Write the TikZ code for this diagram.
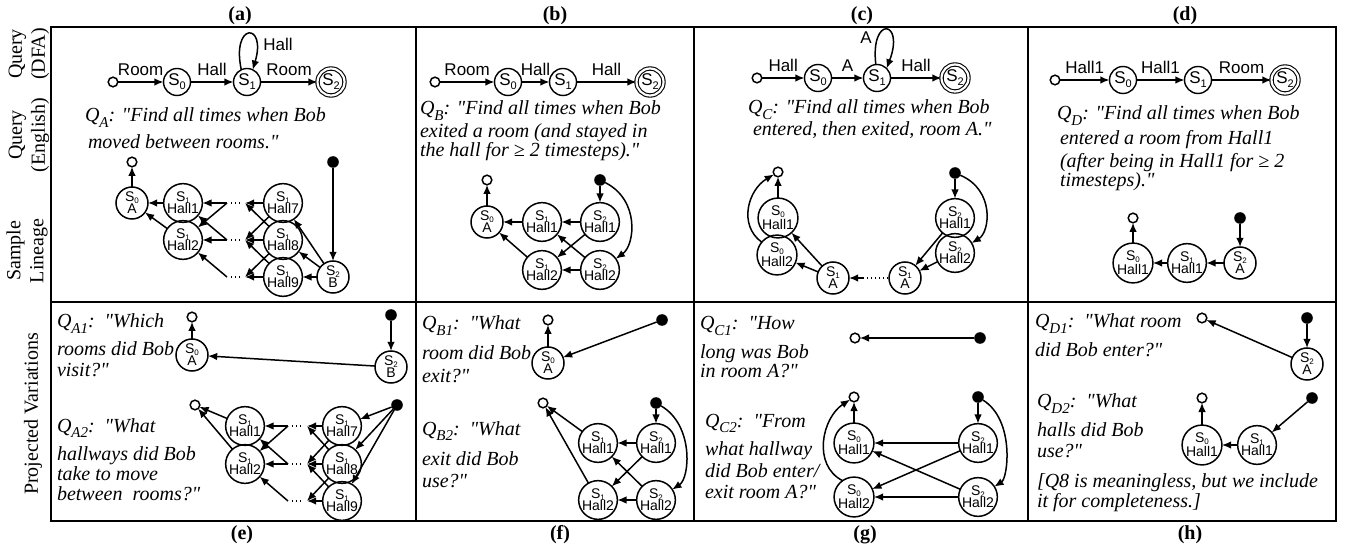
\documentclass[tikz,border=0pt]{standalone}
\usepackage{fontspec}
\setmainfont{Liberation Serif}[Ligatures=TeXOff]
\newfontfamily\hv{Liberation Sans}
\usetikzlibrary{arrows.meta}
\newcommand\qs[1]{\raisebox{-0.55ex}{\fontsize{7.5}{7.5}\selectfont #1}}
\newcommand\ds[1]{\raisebox{-0.45ex}{\fontsize{5.5}{5.5}\selectfont #1}}
\newcommand\ls[1]{\raisebox{-0.25ex}{\fontsize{4}{4}\selectfont #1}}
\begin{document}
\begin{tikzpicture}[x=0.5pt,y=-0.5pt,
 every node/.style={inner sep=0pt,outer sep=0pt},
 arr/.style={-{Latex[length=4.6pt,width=3.8pt]},line width=0.75pt},
 st/.style={circle,draw,line width=0.7pt,minimum size=13.5pt,font=\hv\fontsize{8.5}{9}\selectfont},
 acc/.style={circle,draw,double,double distance=1.1pt,line width=0.55pt,minimum size=13.5pt,font=\hv\fontsize{8.5}{9}\selectfont},
 ln/.style={circle,draw,line width=0.75pt,minimum size=16pt,align=center,font=\hv\fontsize{7}{6}\selectfont},
 oc/.style={circle,draw,line width=0.75pt,minimum size=4.8pt},
 fc/.style={circle,fill,minimum size=5.8pt},
 lbl/.style={font=\hv\fontsize{8.5}{9}\selectfont,above=3pt},
 qt/.style={anchor=base west,font=\fontsize{10}{11}\selectfont\itshape},
 frm/.style={line width=1pt},
 dotl/.style={line width=0.7pt,dash pattern=on 0.7pt off 1.3pt},
 pl/.style={font=\bfseries\fontsize{10}{12}\selectfont},
 rl/.style={rotate=90,align=center,font=\fontsize{10}{11.5}\selectfont}
]
\useasboundingbox (0,0) rectangle (1348,550);
% frame
\draw[frm] (51,27) rectangle (1336,521);
\draw[frm] (51,302) -- (1336,302);
\draw[frm] (416,27) -- (416,521);
\draw[frm] (694,27) -- (694,521);
\draw[frm] (1028,27) -- (1028,521);
% panel labels
\node[pl] (la) at (240,16) {(a)};
\node[pl] (lb) at (555,16) {(b)};
\node[pl] (lc) at (862,16) {(c)};
\node[pl] (ld) at (1185,16) {(d)};
\node[pl] (le) at (242,535) {(e)};
\node[pl] (lf) at (560,535) {(f)};
\node[pl] (lg) at (865,535) {(g)};
\node[pl] (lh) at (1190,535) {(h)};
% row labels
\node[rl] (r1) at (29,54) {Query\\(DFA)};
\node[rl] (r2) at (29,135) {Query\\(English)};
\node[rl] (r3) at (27,251) {Sample\\Lineage};
\node[rl] (r4) at (33,414) {Projected Variations};

% ===== (a) =====
\node[oc] (aI) at (113,82) {};
\node[st] (aQ0) at (177,82) {S\ds0};
\node[st] (aQ1) at (247,82) {S\ds1};
\node[acc] (aQ2) at (331,82) {S\ds2};
\draw[arr] (aI) -- node[lbl] (aE1) {Room} (aQ0);
\draw[arr] (aQ0) -- node[lbl] (aE2) {Hall} (aQ1);
\draw[arr] (aQ1) -- node[lbl] (aE3) {Room} (aQ2);
\draw[arr] (aQ1.115) .. controls (231,22) and (267,22) .. (aQ1.65);
\node[font=\hv\fontsize{8.5}{9}\selectfont] (aE4) at (278,44) {Hall};
\node[qt] (ta1) at (85,122) {Q\qs{A}: "Find all times when Bob};
\node[qt] (ta2) at (88,149) {moved between rooms."};
\node[oc] (aO) at (132,162) {};
\node[fc] (aF) at (333,162) {};
\node[ln] (aS0) at (132,203) {S\ls0\\A};
\node[ln] (aH1) at (183,203) {S\ls1\\Hall1};
\node[ln] (aH2) at (183,240) {S\ls1\\Hall2};
\node[ln] (aH7) at (283,203) {S\ls1\\Hall7};
\node[ln] (aH8) at (283,240) {S\ls1\\Hall8};
\node[ln] (aH9) at (283,277) {S\ls1\\Hall9};
\node[ln] (aS2) at (333,277) {S\ls2\\B};
\coordinate (aL1) at (227,203); \coordinate (aR1) at (245,203);
\coordinate (aL2) at (227,240); \coordinate (aR2) at (245,240);
\coordinate (aL3) at (227,277); \coordinate (aR3) at (245,277);
\draw[dotl,shorten <=2pt,shorten >=2pt] (aL1) -- (aR1);
\draw[dotl,shorten <=2pt,shorten >=2pt] (aL2) -- (aR2);
\draw[dotl,shorten <=2pt,shorten >=2pt] (aL3) -- (aR3);
\draw[arr] (aS0) -- (aO);
\draw[arr] (aF) -- (aS2);
\draw[arr] (aH1) -- (aS0);
\draw[arr] (aH2) -- (aS0);
\draw[arr] (aL1) -- (aH1);
\draw[arr] (aL1) -- (aH2);
\draw[arr] (aL2) -- (aH2);
\draw[arr] (aL2) -- (aH1);
\draw[arr] (aL3) -- (aH2);
\draw[arr] (aH7) -- (aR1);
\draw[arr] (aH7) -- (aR2);
\draw[arr] (aH8) -- (aR1);
\draw[arr] (aH8) -- (aR2);
\draw[arr] (aH8) -- (aR3);
\draw[arr] (aH9) -- (aR2);
\draw[arr] (aH9) -- (aR3);
\draw[arr] (aS2) -- (aH7);
\draw[arr] (aS2) -- (aH8);
\draw[arr] (aS2) -- (aH9);

% ===== (b) =====
\node[oc] (bI) at (435,82) {};
\node[st] (bQ0) at (508,82) {S\ds0};
\node[st] (bQ1) at (563,82) {S\ds1};
\node[acc] (bQ2) at (650,82) {S\ds2};
\draw[arr] (bI) -- node[lbl] (bE1) {Room} (bQ0);
\draw[arr] (bQ0) -- node[lbl] (bE2) {Hall} (bQ1);
\draw[arr] (bQ1) -- node[lbl] (bE3) {Hall} (bQ2);
\node[qt] (tb1) at (420,115) {Q\qs{B}: "Find all times when Bob};
\node[qt] (tb2) at (420,138) {exited a room (and stayed in};
\node[qt] (tb3) at (420,157) {the hall for ≥ 2 timesteps)."};
\node[oc] (bO) at (487,180) {};
\node[fc] (bF) at (600,180) {};
\node[ln] (bS0) at (487,222) {S\ls0\\A};
\node[ln] (bH11) at (542,222) {S\ls1\\Hall1};
\node[ln] (bH21) at (600,222) {S\ls2\\Hall1};
\node[ln] (bH12) at (542,270) {S\ls1\\Hall2};
\node[ln] (bH22) at (600,270) {S\ls2\\Hall2};
\draw[arr] (bS0) -- (bO);
\draw[arr] (bH11) -- (bS0);
\draw[arr] (bH21) -- (bH11);
\draw[arr] (bH12) -- (bS0);
\draw[arr] (bH21) -- (bH12);
\draw[arr] (bH22) -- (bH11);
\draw[arr] (bH22) -- (bH12);
\draw[arr] (bF) -- (bH21);
\draw[arr] (bF) .. controls (640,200) and (635,245) .. (bH22);

% ===== (c) =====
\node[oc] (cI) at (757,78) {};
\node[st] (cQ0) at (818,78) {S\ds0};
\node[st] (cQ1) at (877,78) {S\ds1};
\node[acc] (cQ2) at (955,78) {S\ds2};
\draw[arr] (cI) -- node[lbl] (cE1) {Hall} (cQ0);
\draw[arr] (cQ0) -- node[lbl] (cE2) {A} (cQ1);
\draw[arr] (cQ1) -- node[lbl] (cE3) {Hall} (cQ2);
\draw[arr] (cQ1.95) .. controls (870,15) and (905,20) .. (cQ1.45);
\node[font=\hv\fontsize{8.5}{9}\selectfont] (cE4) at (866,38) {A};
\node[qt] (tc1) at (748,114) {Q\qs{C}: "Find all times when Bob};
\node[qt] (tc2) at (753,136) {entered, then exited, room A."};
\node[oc] (cO) at (778,172) {};
\node[fc] (cF) at (955,173) {};
\node[ln] (cH01) at (778,218) {S\ls0\\Hall1};
\node[ln] (cH02) at (777,255) {S\ls0\\Hall2};
\node[ln] (cA1) at (833,278) {S\ls1\\A};
\node[ln] (cA2) at (905,278) {S\ls1\\A};
\node[ln] (cH21) at (955,218) {S\ls2\\Hall1};
\node[ln] (cH22) at (955,253) {S\ls2\\Hall2};
\coordinate (cD) at (863,278);
\draw[arr] (cH01) -- (cO);
\draw[arr] (cH02.140) .. controls (738,225) and (748,190) .. (cO);
\draw[arr] (cA1) -- (cH01);
\draw[arr] (cA1) -- (cH02);
\draw[arr] (cD) -- (cA1);
\draw[dotl] (cD) -- (cA2);
\draw[arr] (cH21) -- (cA2);
\draw[arr] (cH22) -- (cA2);
\draw[arr] (cF) -- (cH21);
\draw[arr] (cF) .. controls (995,190) and (990,232) .. (cH22);

% ===== (d) =====
\node[oc] (dI) at (1055,80) {};
\node[st] (dQ0) at (1123,80) {S\ds0};
\node[st] (dQ1) at (1198,80) {S\ds1};
\node[acc] (dQ2) at (1285,80) {S\ds2};
\draw[arr] (dI) -- node[lbl] (dE1) {Hall1} (dQ0);
\draw[arr] (dQ0) -- node[lbl] (dE2) {Hall1} (dQ1);
\draw[arr] (dQ1) -- node[lbl] (dE3) {Room} (dQ2);
\node[qt] (td1) at (1057,120) {Q\qs{D}: "Find all times when Bob};
\node[qt] (td2) at (1060,145) {entered a room from Hall1};
\node[qt] (td3) at (1060,168) {(after being in Hall1 for ≥ 2};
\node[qt] (td4) at (1060,187) {timesteps)."};
\node[oc] (dO) at (1133,218) {};
\node[fc] (dF) at (1240,218) {};
\node[ln] (dH0) at (1133,263) {S\ls0\\Hall1};
\node[ln] (dH1) at (1187,263) {S\ls1\\Hall1};
\node[ln] (dA) at (1240,263) {S\ls2\\A};
\draw[arr] (dH0) -- (dO);
\draw[arr] (dH1) -- (dH0);
\draw[arr] (dA) -- (dH1);
\draw[arr] (dF) -- (dA);

% ===== (e) =====
\node[qt] (te1) at (57,328) {Q\qs{A1}:\ \ "Which};
\node[qt] (te2) at (57,356) {rooms did Bob};
\node[qt] (te3) at (57,377) {visit?"};
\node[qt] (te4) at (57,432) {Q\qs{A2}:\ \ "What};
\node[qt] (te5) at (57,460) {hallways did Bob};
\node[qt] (te6) at (57,480) {take to move};
\node[qt] (te7) at (57,500) {between\ \ rooms?"};
\node[oc] (eO1) at (192,317) {};
\node[ln] (eS0) at (192,355) {S\ls0\\A};
\node[fc] (eF1) at (391,315) {};
\node[ln] (eS2) at (391,367) {S\ls2\\B};
\draw[arr] (eS0) -- (eO1);
\draw[arr] (eF1) -- (eS2);
\draw[arr] (eS2) -- (eS0);
\node[oc] (eO2) at (195,405) {};
\node[ln] (eH1) at (245,426) {S\ls1\\Hall1};
\node[ln] (eH2) at (245,464) {S\ls1\\Hall2};
\node[ln] (eH7) at (342,426) {S\ls1\\Hall7};
\node[ln] (eH8) at (342,464) {S\ls1\\Hall8};
\node[ln] (eH9) at (342,501) {S\ls1\\Hall9};
\node[fc] (eF2) at (397,405) {};
\coordinate (eL1) at (288,426); \coordinate (eR1) at (307,426);
\coordinate (eL2) at (288,464); \coordinate (eR2) at (307,464);
\coordinate (eL3) at (288,501); \coordinate (eR3) at (307,501);
\draw[dotl,shorten <=2pt,shorten >=2pt] (eL1) -- (eR1);
\draw[dotl,shorten <=2pt,shorten >=2pt] (eL2) -- (eR2);
\draw[dotl,shorten <=2pt,shorten >=2pt] (eL3) -- (eR3);
\draw[arr] (eH1) -- (eO2);
\draw[arr] (eH2) -- (eO2);
\draw[arr] (eL1) -- (eH1);
\draw[arr] (eL1) -- (eH2);
\draw[arr] (eL2) -- (eH2);
\draw[arr] (eL2) -- (eH1);
\draw[arr] (eL3) -- (eH2);
\draw[arr] (eH7) -- (eR1);
\draw[arr] (eH7) -- (eR2);
\draw[arr] (eH8) -- (eR1);
\draw[arr] (eH8) -- (eR2);
\draw[arr] (eH8) -- (eR3);
\draw[arr] (eH9) -- (eR2);
\draw[arr] (eH9) -- (eR3);
\draw[arr] (eF2) -- (eH7);
\draw[arr] (eF2) -- (eH8);
\draw[arr] (eF2) -- (eH9);

% ===== (f) =====
\node[qt] (tf1) at (422,330) {Q\qs{B1}:\ \ "What};
\node[qt] (tf2) at (422,360) {room did Bob};
\node[qt] (tf3) at (422,382) {exit?"};
\node[qt] (tf4) at (422,435) {Q\qs{B2}:\ \ "What};
\node[qt] (tf5) at (422,465) {exit did Bob};
\node[qt] (tf6) at (422,487) {use?"};
\node[oc] (fO1) at (548,320) {};
\node[ln] (fS0) at (548,363) {S\ls0\\A};
\node[fc] (fF1) at (662,320) {};
\draw[arr] (fS0) -- (fO1);
\draw[arr] (fF1) -- (fS0);
\node[oc] (fO2) at (543,403) {};
\node[ln] (fH11) at (598,443) {S\ls1\\Hall1};
\node[ln] (fH12) at (598,500) {S\ls1\\Hall2};
\node[ln] (fH21) at (656,443) {S\ls2\\Hall1};
\node[ln] (fH22) at (656,500) {S\ls2\\Hall2};
\node[fc] (fF2) at (656,403) {};
\draw[arr] (fH11) -- (fO2);
\draw[arr] (fH12) -- (fO2);
\draw[arr] (fH21) -- (fH11);
\draw[arr] (fH21) -- (fH12);
\draw[arr] (fH22) -- (fH11);
\draw[arr] (fH22) -- (fH12);
\draw[arr] (fF2) -- (fH21);
\draw[arr] (fF2) .. controls (694,425) and (690,478) .. (fH22);

% ===== (g) =====
\node[qt] (tg1) at (700,330) {Q\qs{C1}:\ \ "How};
\node[qt] (tg2) at (700,358) {long was Bob};
\node[qt] (tg3) at (700,378) {in room A?"};
\node[qt] (tg4) at (705,427) {Q\qs{C2}:\ \ "From};
\node[qt] (tg5) at (705,455) {what hallway};
\node[qt] (tg6) at (705,477) {did Bob enter/};
\node[qt] (tg7) at (705,498) {exit room A?"};
\node[oc] (gO1) at (855,338) {};
\node[fc] (gF1) at (980,338) {};
\draw[arr] (gF1) -- (gO1);
\node[oc] (gO2) at (854,397) {};
\node[ln] (gH01) at (854,443) {S\ls0\\Hall1};
\node[ln] (gH02) at (854,497) {S\ls0\\Hall2};
\node[ln] (gH21) at (978,443) {S\ls2\\Hall1};
\node[ln] (gH22) at (978,497) {S\ls2\\Hall2};
\node[fc] (gF2) at (978,397) {};
\draw[arr] (gH01) -- (gO2);
\draw[arr] (gH02.125) .. controls (812,465) and (822,418) .. (gO2);
\draw[arr] (gH21) -- (gH01);
\draw[arr] (gH21) -- (gH02);
\draw[arr] (gH22) -- (gH01);
\draw[arr] (gH22) -- (gH02);
\draw[arr] (gF2) -- (gH21);
\draw[arr] (gF2) .. controls (1015,420) and (1008,478) .. (gH22);

% ===== (h) =====
\node[qt] (th1) at (1035,328) {Q\qs{D1}:\ \ "What room};
\node[qt] (th2) at (1035,357) {did Bob enter?"};
\node[qt] (th3) at (1037,408) {Q\qs{D2}:\ \ "What};
\node[qt] (th4) at (1037,437) {halls did Bob};
\node[qt] (th5) at (1037,457) {use?"};
\node[qt] (th6) at (1037,487) {[Q8 is meaningless, but we include};
\node[qt] (th7) at (1037,507) {it for completeness.]};
\node[oc] (hO1) at (1202,318) {};
\node[fc] (hF1) at (1307,318) {};
\node[ln] (hA) at (1307,364) {S\ls2\\A};
\draw[arr] (hF1) -- (hA);
\draw[arr] (hA) -- (hO1);
\node[oc] (hO2) at (1202,398) {};
\node[fc] (hF2) at (1312,398) {};
\node[ln] (hH0) at (1202,445) {S\ls0\\Hall1};
\node[ln] (hH1) at (1257,445) {S\ls1\\Hall1};
\draw[arr] (hH0) -- (hO2);
\draw[arr] (hH1) -- (hH0);
\draw[arr] (hF2) -- (hH1);
\end{tikzpicture}
\end{document}
